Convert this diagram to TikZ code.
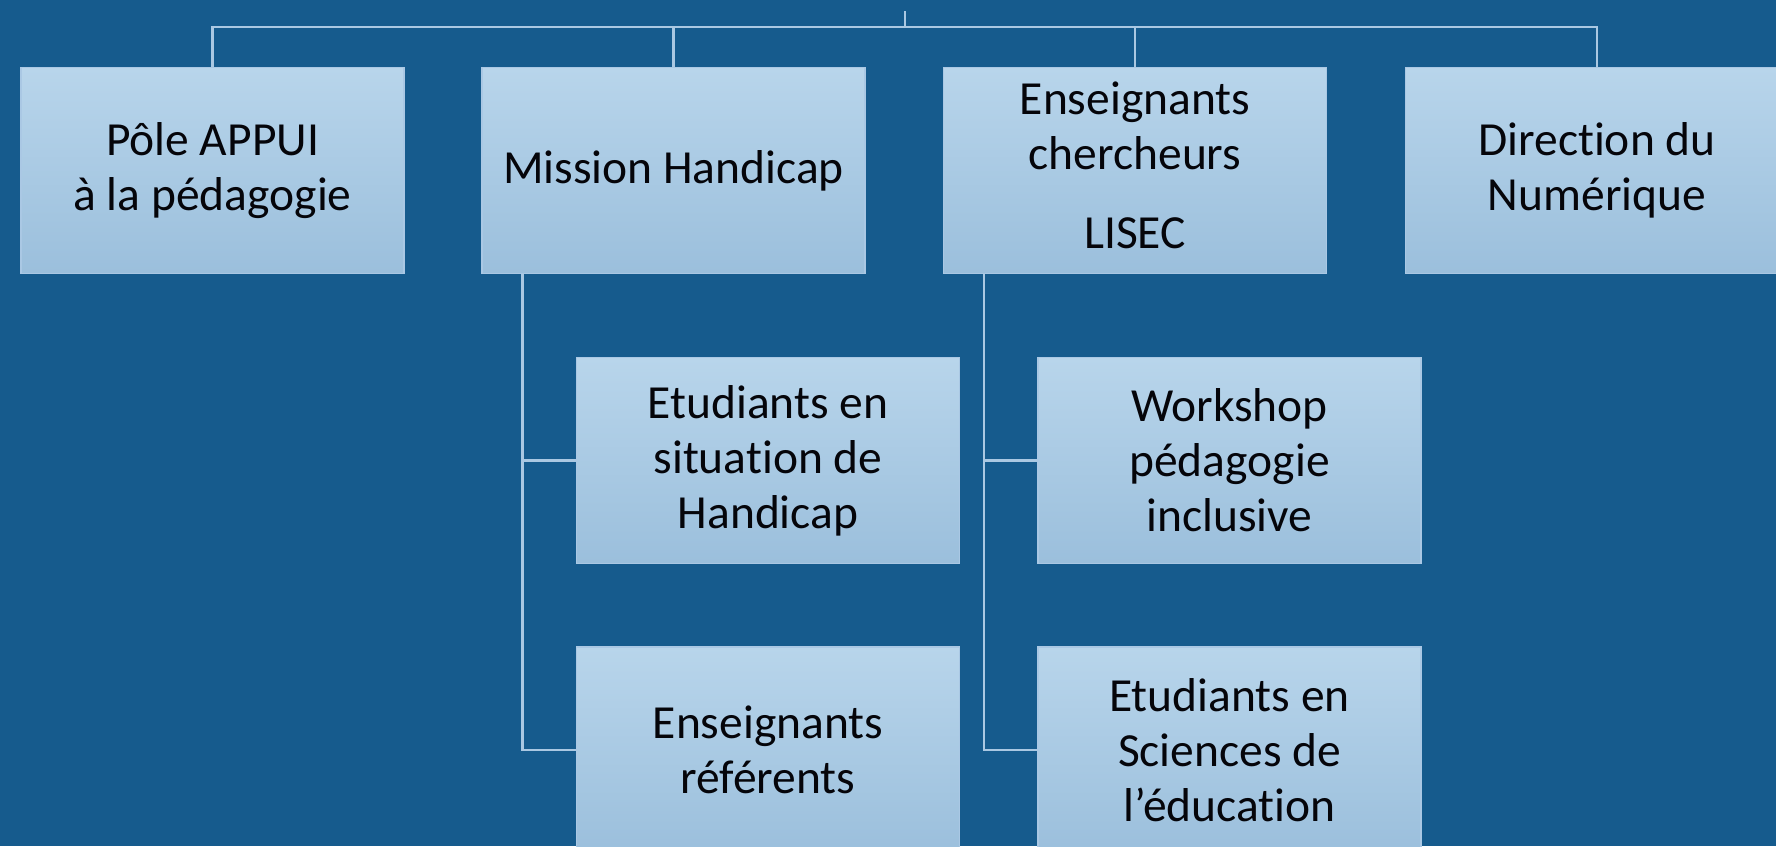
\documentclass[tikz,border=0pt]{standalone}
\usepackage{fontspec}
\setmainfont{Carlito}[Ligatures=NoCommon]
\definecolor{bg}{RGB}{22,91,141}
\definecolor{boxtop}{RGB}{184,213,235}
\definecolor{boxbot}{RGB}{155,191,220}
\definecolor{boxline}{RGB}{170,200,228}
\definecolor{linkclr}{RGB}{170,200,226}
\definecolor{txt}{RGB}{5,5,10}
\tikzset{
  orgbox/.style={draw=boxline, line width=1.5pt, top color=boxtop, bottom color=boxbot,
    minimum width=383pt, minimum height=206pt, align=center, inner sep=0pt,
    font=\fontsize{47.5}{55}\selectfont, text=txt},
  link/.style={draw=linkclr, line width=2.5pt}
}
\begin{document}
\begin{tikzpicture}[x=1pt,y=-1pt]
\useasboundingbox (0,0) rectangle (1776,846);
\fill[bg] (0,0) rectangle (1776,846);
\clip (0,0) rectangle (1776,846);

\node[orgbox] (b1) at (212.5,170.5) {Pôle APPUI\\à la pédagogie};
\node[orgbox] (b2) at (673.5,170.5) {Mission Handicap};
\node[orgbox] (b3) at (1135,170.5) {\raisebox{2.5pt}{\begin{tabular}{@{}c@{}}Enseignants\\chercheurs\\[24pt]LISEC\end{tabular}}};
\node[orgbox] (b4) at (1597,170.5) {Direction du\\Numérique};

\node[orgbox] (c1) at (768,460.5) {Etudiants en\\situation de\\Handicap};
\node[orgbox] (c2) at (768,750) {Enseignants\\référents};
\node[orgbox] (d1) at (1229.5,460.5) {Workshop\\pédagogie\\inclusive};
\node[orgbox] (d2) at (1229.5,750) {Etudiants en\\Sciences de\\l’éducation};

\coordinate (root) at (905,11);
\coordinate (bus) at (905,27);
\draw[link] (root) -- (bus);
\draw[link] (bus) -| (b1.north);
\draw[link] (bus) -| (b2.north);
\draw[link] (bus) -| (b3.north);
\draw[link] (bus) -| (b4.north);

\draw[link] ([xshift=41pt]b2.south west) |- (c1.west);
\draw[link] ([xshift=41pt]b2.south west) |- (c2.west);
\draw[link] ([xshift=41pt]b3.south west) |- (d1.west);
\draw[link] ([xshift=41pt]b3.south west) |- (d2.west);
\end{tikzpicture}
\end{document}
